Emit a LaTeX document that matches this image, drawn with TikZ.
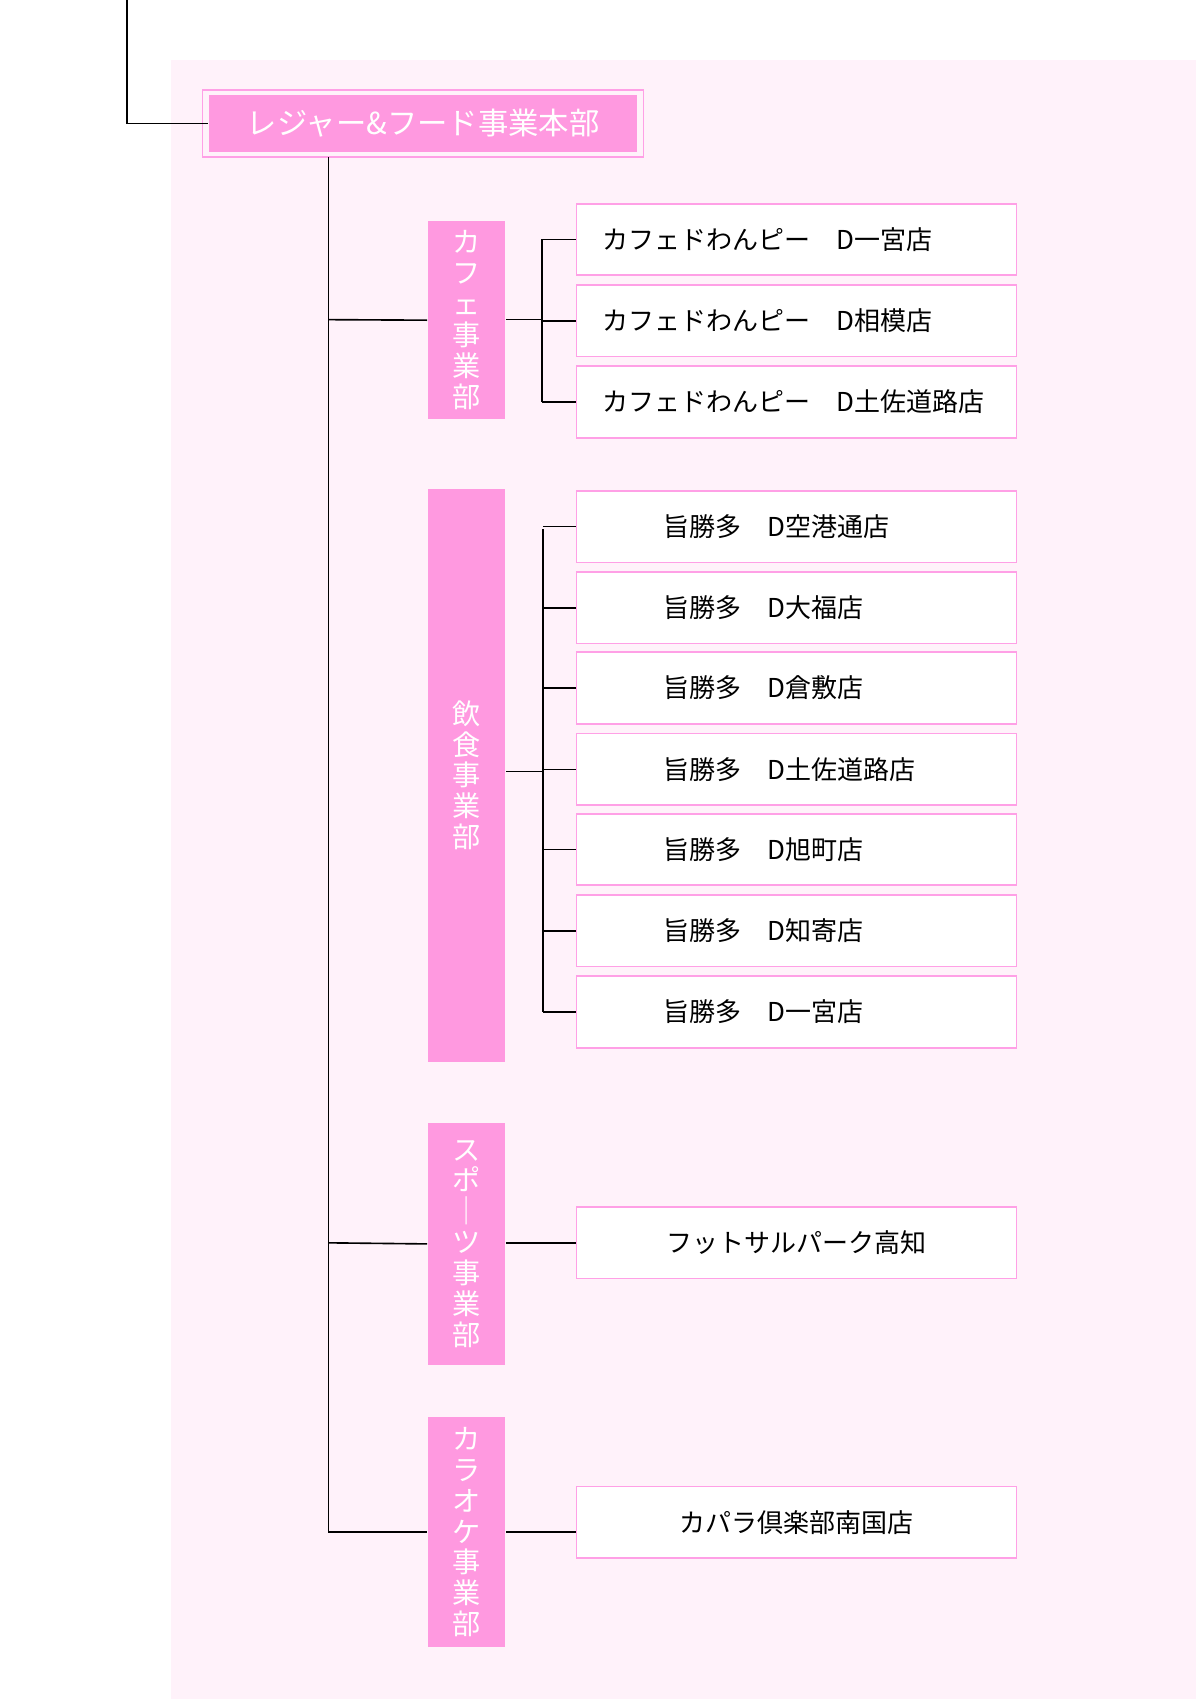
\documentclass[tikz,border=0pt]{standalone}
\usepackage{fontspec}
\setmainfont{Noto Sans CJK JP}
\usepackage{tikz}
\tikzset{every picture/.style={line width=1.5pt}}
\definecolor{bgpink}{RGB}{255,242,250}
\definecolor{boxpink}{RGB}{255,153,224}
\definecolor{edgepink}{RGB}{255,160,230}
\tikzset{
  storebox/.style={draw=edgepink, line width=1.5pt, fill=white, minimum width=406pt, minimum height=66pt, inner sep=0pt, font=\fontsize{24}{28}\selectfont},
  divbox/.style={fill=boxpink, text=white, minimum width=71pt, inner sep=0pt, align=center, font=\fontsize{26}{28.5}\selectfont},
  wire/.style={draw=black, line width=1.5pt}
}

\begin{document}
\begin{tikzpicture}[x=1pt,y=1pt,yscale=-1,xscale=1]
\useasboundingbox (0,0) rectangle (1104,1568);

%background
\fill[bgpink] (158,55) rectangle (1104,1568);

%head office
\draw[edgepink, line width=1.5pt] (187,83) rectangle (594,145);
\node[fill=boxpink, text=white, minimum width=395pt, minimum height=52pt, inner sep=0pt, font=\fontsize{28}{32}\selectfont] (hq) at (390.5,114) {レジャー\&フード事業本部};
\coordinate (top) at (117,0);
\draw[wire] (top) |- (hq.west);

%divisions
\node[divbox, minimum height=183pt] (cafe) at (430.5,295.5) {カ\\フ\\ェ\\事\\業\\部};
\node[divbox, minimum height=529pt] (food) at (430.5,715.5) {飲\\食\\事\\業\\部};
\node[divbox, minimum height=224pt] (sport) at (430.5,1148) {ス\\ポ\\｜\\ツ\\事\\業\\部};
\node[divbox, minimum height=212pt] (kara) at (430.5,1414) {カ\\ラ\\オ\\ケ\\事\\業\\部};

%trunk
\coordinate (trunktop) at (303,145);
\coordinate (trunkend) at (303,1414);
\draw[wire] (trunktop) -- (trunkend) -- (kara.west);
\draw[wire] (303,295) -- (cafe.west);
\draw[wire] (303,1147) -- (sport.west);

%cafe stores
\foreach \y/\name/\txt in {221/c1/カフェドわんピー　D一宮店, 296/c2/カフェドわんピー　D相模店, 371/c3/カフェドわんピー　D土佐道路店}{
  \node[storebox, text width=358pt, align=left] (\name) at (735,\y) {\txt};
  \draw[wire] (500,\y) -- (\name.west);
}
\draw[wire] (500,221) -- (500,371);
\draw[wire] (cafe.east |- 0,295) -- (500,295);

%food stores
\foreach \y/\name/\txt in {486/f1/旨勝多　D空港通店, 561/f2/旨勝多　D大福店, 635/f3/旨勝多　D倉敷店, 710/f4/旨勝多　D土佐道路店, 784/f5/旨勝多　D旭町店, 859/f6/旨勝多　D知寄店, 934/f7/旨勝多　D一宮店}{
  \node[storebox, text width=326pt, align=left] (\name) at (735,\y) {\hspace*{40pt}\txt};
  \draw[wire] (501,\y) -- (\name.west);
}
\draw[wire] (501,488) -- (501,934);
\draw[wire] (food.east |- 0,712) -- (501,712);

%sports and karaoke stores
\node[storebox] (s1) at (735,1147) {フットサルパーク高知};
\draw[wire] (sport.east |- s1.west) -- (s1.west);
\node[storebox] (k1) at (735,1405) {カパラ倶楽部南国店};
\draw[wire] (kara.east |- 0,1414) -- (k1.west |- 0,1414);
\end{tikzpicture}
\end{document}
